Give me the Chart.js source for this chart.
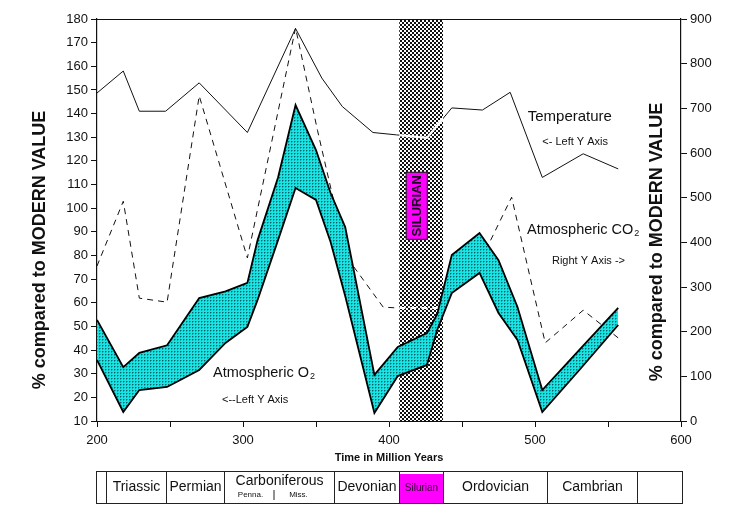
<!DOCTYPE html>
<html>
<head>
<meta charset="utf-8">
<script src="https://cdn.jsdelivr.net/npm/chart.js@4.4.1/dist/chart.umd.min.js"></script>
<style>
  html, body { margin: 0; padding: 0; background: #fff; }
  #wrap { width: 751px; height: 525px; }
</style>
</head>
<body>
<div id="wrap"><canvas id="chart" width="751" height="525"></canvas></div>
<script>
// time in million years, values in % of modern
const tempTime = [200, 218, 229, 247, 270, 303, 336, 354, 368, 389, 405, 426, 443, 464, 483, 505, 533, 557];
const temp     = [148.7, 158, 141, 141, 153, 132, 176, 155, 143, 132, 131, 129.7, 142.4, 141.5, 149, 113, 123, 116.6];

const co2Time = [200, 218, 229, 248, 270, 303, 336, 351, 371, 396, 406, 435, 445, 468, 484, 507, 533, 557];
const co2     = [347, 492, 275, 266, 728, 365, 880, 651, 367, 255, 253, 253, 356, 394, 501, 175, 248, 186];

const o2Time  = [200, 218, 229, 248, 270, 288, 303, 310, 324, 336, 350, 360, 370, 390, 406, 426, 433, 443, 462, 475, 488, 505, 531, 557];
const o2High  = [52.7, 32.8, 38.8, 42, 62, 64.8, 68.4, 86.5, 113, 143.6, 124.6, 106.4, 92, 29.5, 41.3, 47.2, 55.2, 80.2, 89.5, 78, 58.2, 23.1, 40.5, 57.8];
const o2Low   = [35.8, 13.8, 23.1, 24.4, 31.6, 43, 49.8, 61.2, 86.5, 108.5, 103.5, 85.7, 62.9, 13.4, 29, 33.7, 48.5, 64.1, 72.6, 55.7, 44.3, 13.8, 32, 50.6];

const silurian = [407, 437];
const periodEdges = [199, 206, 247, 287, 362, 407, 437, 508, 570, 601];
const periodNames = ['', 'Triassic', 'Permian', 'Carboniferous', 'Devonian', 'Silurian', 'Ordovician', 'Cambrian', ''];

const FONT = '"Liberation Sans", Arial, sans-serif';

function pts(xs, ys) {
  return xs.map((x, i) => ({ x: x, y: ys[i] }));
}

function makePattern(w, h, draw) {
  const c = document.createElement('canvas');
  c.width = w; c.height = h;
  const g = c.getContext('2d');
  draw(g);
  return g.createPattern(c, 'repeat');
}

const checker = makePattern(4, 4, g => {
  g.fillStyle = '#fff'; g.fillRect(0, 0, 4, 4);
  g.fillStyle = '#111'; g.fillRect(0, 0, 2, 2); g.fillRect(2, 2, 2, 2);
});

const o2Fill = makePattern(3, 3, g => {
  g.fillStyle = '#18e4e4'; g.fillRect(0, 0, 3, 3);
  g.fillStyle = '#0a5f66'; g.fillRect(0, 0, 1, 1);
  g.fillStyle = '#12a9ae'; g.fillRect(1, 0, 1, 1); g.fillRect(0, 1, 1, 1);
});

function subText(ctx, text, s, x, y, size) {
  ctx.font = size + 'px ' + FONT;
  ctx.textAlign = 'left';
  ctx.textBaseline = 'middle';
  ctx.fillText(text, x, y);
  const w = ctx.measureText(text).width;
  if (s) {
    ctx.font = Math.round(size * 0.65) + 'px ' + FONT;
    ctx.fillText(s, x + w + 1, y + 4);
  }
}

const decor = {
  id: 'decor',
  beforeDatasetsDraw(chart) {
    const { ctx, chartArea: a, scales: { x } } = chart;
    const x0 = x.getPixelForValue(silurian[0]);
    const x1 = x.getPixelForValue(silurian[1]);
    ctx.save();
    ctx.fillStyle = checker;
    ctx.fillRect(x0, a.top, x1 - x0, a.bottom - a.top);
    ctx.restore();
  },
  afterDatasetDraw(chart, args) {
    // lines show white where they cross the Silurian band
    if (args.index !== 2 && args.index !== 3) return;
    const { ctx, chartArea: a, scales: { x } } = chart;
    const x0 = x.getPixelForValue(silurian[0]);
    const x1 = x.getPixelForValue(silurian[1]);
    const meta = chart.getDatasetMeta(args.index);
    ctx.save();
    ctx.beginPath();
    ctx.rect(x0, a.top, x1 - x0, a.bottom - a.top);
    ctx.clip();
    ctx.strokeStyle = '#fff';
    ctx.lineWidth = 2.2;
    if (args.index === 3) ctx.setLineDash([6, 5]);
    ctx.beginPath();
    meta.data.forEach((p, i) => { if (i === 0) ctx.moveTo(p.x, p.y); else ctx.lineTo(p.x, p.y); });
    ctx.stroke();
    ctx.restore();
  },
  afterDraw(chart) {
    const { ctx, chartArea: a, scales: { x, y, y2 } } = chart;
    ctx.save();
    ctx.fillStyle = '#111';
    ctx.strokeStyle = '#111';

    // top frame line
    ctx.lineWidth = 1;
    ctx.beginPath();
    ctx.moveTo(a.left, a.top + 0.5);
    ctx.lineTo(a.right, a.top + 0.5);
    ctx.stroke();

    // Silurian label in band
    const sx = x.getPixelForValue(419);
    const sy = y.getPixelForValue(101);
    ctx.fillStyle = '#ff00ff';
    ctx.fillRect(sx - 11, sy - 34, 22, 68);
    ctx.strokeStyle = '#222';
    ctx.strokeRect(sx - 11 + 0.5, sy - 34 + 0.5, 21, 67);
    ctx.save();
    ctx.translate(sx + 1, sy);
    ctx.rotate(-Math.PI / 2);
    ctx.fillStyle = '#1a0020';
    ctx.font = 'bold 13px ' + FONT;
    ctx.textAlign = 'center';
    ctx.textBaseline = 'middle';
    ctx.fillText('SILURIAN', 0, 0);
    ctx.restore();

    // annotations
    ctx.fillStyle = '#111';
    subText(ctx, 'Temperature', '', x.getPixelForValue(495), y.getPixelForValue(138.6), 15);
    subText(ctx, '<- Left Y Axis', '', x.getPixelForValue(505), y.getPixelForValue(128), 11);
    subText(ctx, 'Atmospheric CO', '2', x.getPixelForValue(494.5), y.getPixelForValue(90.8), 14.5);
    subText(ctx, 'Right Y Axis ->', '', x.getPixelForValue(511.6), y.getPixelForValue(77.7), 11);
    subText(ctx, 'Atmospheric O', '2', x.getPixelForValue(279.5), y.getPixelForValue(30.3), 14.5);
    subText(ctx, '<--Left Y Axis', '', x.getPixelForValue(285.6), y.getPixelForValue(18.9), 11);

    // axis titles
    ctx.font = 'bold 18px ' + FONT;
    ctx.textAlign = 'center';
    ctx.textBaseline = 'middle';
    ctx.save();
    ctx.translate(40, (a.top + a.bottom) / 2 + 30);
    ctx.rotate(-Math.PI / 2);
    ctx.fillText('% compared to MODERN VALUE', 0, 0);
    ctx.restore();
    ctx.save();
    ctx.translate(657, (a.top + a.bottom) / 2 + 22);
    ctx.rotate(-Math.PI / 2);
    ctx.fillText('% compared to MODERN VALUE', 0, 0);
    ctx.restore();

    ctx.font = 'bold 11px ' + FONT;
    ctx.fillText('Time in Million Years', 389, 458);

    // geologic period table
    const top = 471, bot = 503;
    ctx.lineWidth = 1;
    ctx.strokeStyle = '#222';
    for (let i = 0; i < periodNames.length; i++) {
      const l = Math.round(x.getPixelForValue(periodEdges[i])) + 0.5;
      const r = Math.round(x.getPixelForValue(periodEdges[i + 1])) + 0.5;
      if (periodNames[i] === 'Silurian') {
        ctx.fillStyle = '#ff00ff';
        ctx.fillRect(l, top + 3, r - l, bot - top - 2);
      }
      ctx.strokeRect(l, top + 0.5, r - l, bot - top);
      const cx = (l + r) / 2;
      ctx.fillStyle = '#111';
      ctx.textAlign = 'center';
      ctx.textBaseline = 'middle';
      if (periodNames[i] === 'Silurian') {
        ctx.fillStyle = '#300030';
        ctx.font = '10px ' + FONT;
        ctx.fillText(periodNames[i], cx, 488);
      } else if (periodNames[i] === 'Carboniferous') {
        ctx.font = '14px ' + FONT;
        ctx.fillText(periodNames[i], cx, 481);
        ctx.font = '8px ' + FONT;
        ctx.fillText('Penna.', cx - 29, 495);
        ctx.fillText('Miss.', cx + 19, 495);
        ctx.beginPath();
        ctx.moveTo(cx - 5.5, 490);
        ctx.lineTo(cx - 5.5, 500);
        ctx.stroke();
      } else if (periodNames[i]) {
        ctx.font = '14px ' + FONT;
        ctx.fillText(periodNames[i], cx, 487);
      }
    }
    ctx.restore();
  }
};

const ctx = document.getElementById('chart').getContext('2d');

const chart = new Chart(ctx, {
  type: 'line',
  data: {
    datasets: [{
      label: 'O2 high',
      data: pts(o2Time, o2High),
      yAxisID: 'y',
      borderColor: '#000',
      borderWidth: 1.8,
      pointRadius: 0,
      fill: false,
      tension: 0
    }, {
      label: 'O2 low',
      data: pts(o2Time, o2Low),
      yAxisID: 'y',
      borderColor: '#000',
      borderWidth: 1.8,
      backgroundColor: o2Fill,
      pointRadius: 0,
      fill: '-1',
      tension: 0
    }, {
      label: 'Temperature',
      data: pts(tempTime, temp),
      yAxisID: 'y',
      borderColor: '#111',
      borderWidth: 1,
      pointRadius: 0,
      fill: false,
      tension: 0
    }, {
      label: 'CO2',
      data: pts(co2Time, co2),
      yAxisID: 'y2',
      borderColor: '#111',
      borderWidth: 1,
      borderDash: [6, 5],
      pointRadius: 0,
      fill: false,
      tension: 0
    }]
  },
  options: {
    responsive: false,
    animation: false,
    layout: { padding: { top: 19, left: 0, right: 0, bottom: 0 } },
    plugins: {
      legend: { display: false },
      tooltip: { enabled: false }
    },
    scales: {
      x: {
        type: 'linear',
        min: 200,
        max: 600,
        afterFit: s => { s.height = 104; },
        border: { color: '#111', width: 1 },
        grid: { drawOnChartArea: false, drawTicks: true, tickLength: 6, color: '#111' },
        ticks: {
          stepSize: 50,
          autoSkip: false,
          maxRotation: 0,
          padding: 6,
          color: '#111',
          font: { family: FONT, size: 13 },
          callback: v => (v % 100 === 0 ? v : '')
        }
      },
      y: {
        position: 'left',
        min: 10,
        max: 180,
        afterFit: s => { s.width = 97; },
        border: { color: '#111', width: 1.2 },
        grid: { drawOnChartArea: false, drawTicks: true, tickLength: 6, color: '#111' },
        ticks: {
          stepSize: 10,
          autoSkip: false,
          padding: 3,
          color: '#111',
          font: { family: FONT, size: 13 }
        }
      },
      y2: {
        position: 'right',
        min: 0,
        max: 900,
        afterFit: s => { s.width = 70; },
        border: { color: '#111', width: 1.2 },
        grid: { drawOnChartArea: false, drawTicks: true, tickLength: 6, color: '#111' },
        ticks: {
          stepSize: 100,
          autoSkip: false,
          padding: 3,
          color: '#111',
          font: { family: FONT, size: 13 }
        }
      }
    }
  },
  plugins: [decor]
});
</script>
</body>
</html>
